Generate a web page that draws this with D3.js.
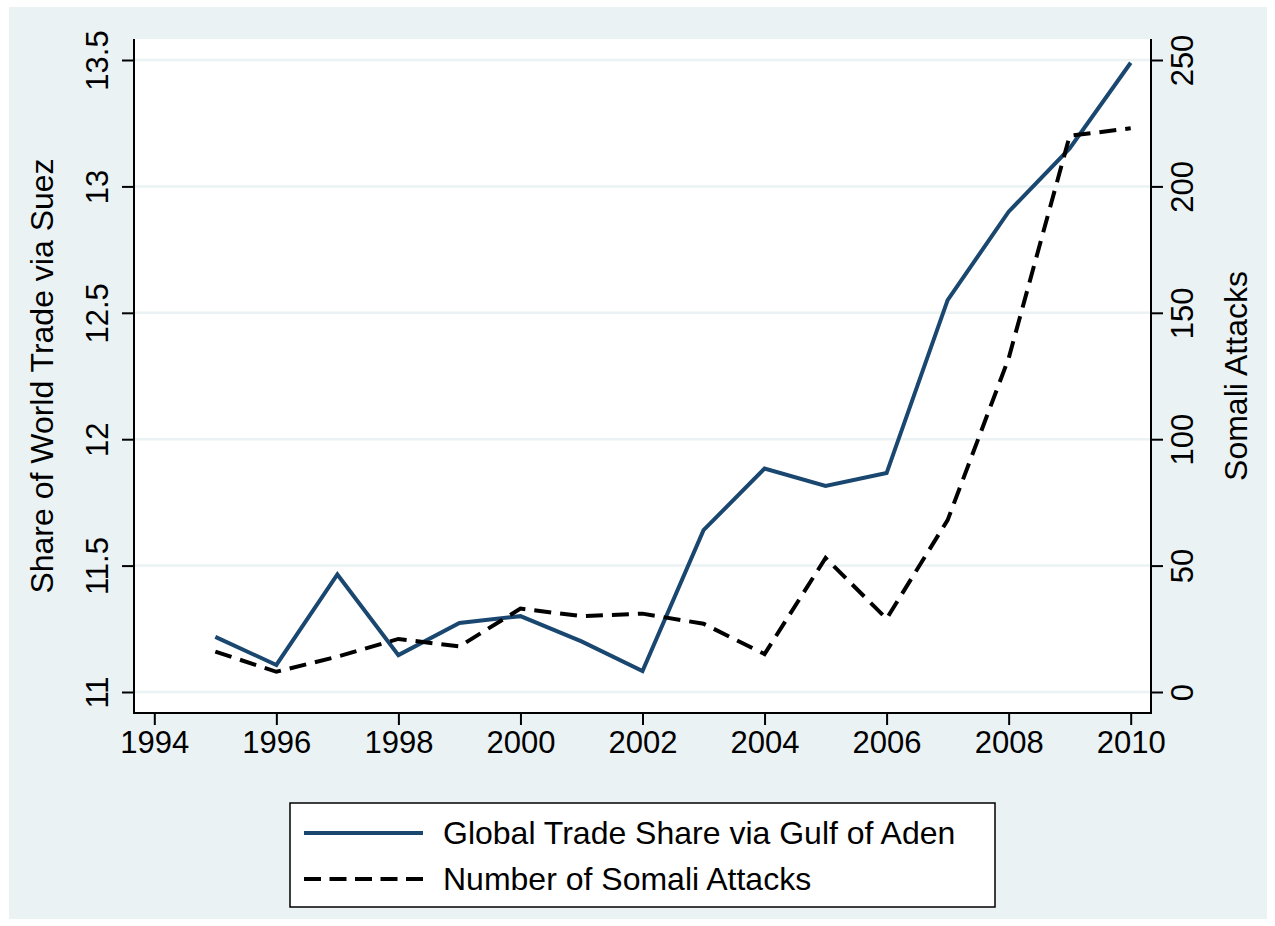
<!DOCTYPE html>
<html>
<head>
<meta charset="utf-8">
<script src="https://cdn.jsdelivr.net/npm/d3@7"></script>
<style>
  body { margin: 0; background: #fff; }
  text { font-family: "Liberation Sans", Arial, Helvetica, sans-serif; fill: #000; }
</style>
</head>
<body>
<div id="chart"></div>
<script>
let years = [1995, 1996, 1997, 1998, 1999, 2000, 2001, 2002, 2003, 2004, 2005, 2006, 2007, 2008, 2009, 2010];
let tradeShare = [11.218, 11.107, 11.465, 11.146, 11.273, 11.30, 11.20, 11.083, 11.64, 11.884, 11.815, 11.866, 12.55, 12.90, 13.15, 13.489];
let somaliAttacks = [16, 8, 14, 21, 18, 33, 30, 31, 27, 15, 53, 29, 68, 132, 220, 223];

let xTicks = [1994, 1996, 1998, 2000, 2002, 2004, 2006, 2008, 2010];
let leftTicks = [11, 11.5, 12, 12.5, 13, 13.5];
let rightTicks = [0, 50, 100, 150, 200, 250];
let legendLabels = ["Global Trade Share via Gulf of Aden", "Number of Somali Attacks"];

let width = 1275,
    height = 926,
    plotLeft = 134,
    plotRight = 1151,
    plotTop = 39,
    plotBottom = 713,
    navy = "#1a476f",
    bg = "#eaf2f3";

let x = d3.scaleLinear()
    .domain([1994, 2010])
    .range([154.3, 1130.7]);

let yLeft = d3.scaleLinear()
    .domain([11, 13.5])
    .range([692, 60]);

let yRight = d3.scaleLinear()
    .domain([0, 250])
    .range([692, 60]);

let svg = d3.select("#chart").append("svg")
    .attr("width", width)
    .attr("height", height);

// outer graph region
svg.append("rect")
    .attr("x", 9)
    .attr("y", 7)
    .attr("width", 1258)
    .attr("height", 912)
    .attr("fill", bg);

// plot region
svg.append("rect")
    .attr("x", plotLeft)
    .attr("y", plotTop)
    .attr("width", plotRight - plotLeft)
    .attr("height", plotBottom - plotTop)
    .attr("fill", "#fff");

// grid lines
svg.selectAll(".grid")
    .data(leftTicks)
    .enter().append("line")
    .attr("class", "grid")
    .attr("x1", plotLeft)
    .attr("x2", plotRight)
    .attr("y1", function(d) { return yLeft(d); })
    .attr("y2", function(d) { return yLeft(d); })
    .attr("stroke", bg)
    .attr("stroke-width", 2.5);

// axes
let gLeft = svg.append("g")
    .attr("transform", "translate(" + plotLeft + ",0)")
    .call(d3.axisLeft(yLeft).tickValues(leftTicks).tickSize(12).tickSizeOuter(0)
        .tickFormat(function(d) { return d3.format("")(d); }));

let gRight = svg.append("g")
    .attr("transform", "translate(" + plotRight + ",0)")
    .call(d3.axisRight(yRight).tickValues(rightTicks).tickSize(12).tickSizeOuter(0));

let gBottom = svg.append("g")
    .attr("transform", "translate(0," + plotBottom + ")")
    .call(d3.axisBottom(x).tickValues(xTicks).tickSize(12).tickSizeOuter(0).tickFormat(d3.format("d")));

[gLeft, gRight, gBottom].forEach(function(g) {
    g.select(".domain").remove();
    g.selectAll(".tick line").attr("stroke", "#000").attr("stroke-width", 2);
    g.selectAll("text").attr("font-size", 31).attr("font-family", null).attr("fill", "#000");
});

gLeft.selectAll("text")
    .attr("x", null)
    .attr("dy", null)
    .attr("text-anchor", "middle")
    .attr("transform", "translate(-26,0) rotate(-90)");

gRight.selectAll("text")
    .attr("x", null)
    .attr("dy", null)
    .attr("text-anchor", "middle")
    .attr("transform", "translate(42,0) rotate(-90)");

gBottom.selectAll("text")
    .attr("y", 40)
    .attr("dy", null);

// axis lines
svg.append("path")
    .attr("d", "M" + plotLeft + "," + plotTop + "V" + plotBottom + "H" + plotRight + "V" + plotTop)
    .attr("fill", "none")
    .attr("stroke", "#000")
    .attr("stroke-width", 2);

// axis titles
svg.append("text")
    .attr("transform", "translate(53," + (plotTop + plotBottom) / 2 + ") rotate(-90)")
    .attr("text-anchor", "middle")
    .attr("font-size", 32)
    .text("Share of World Trade via Suez");

svg.append("text")
    .attr("transform", "translate(1247," + (plotTop + plotBottom) / 2 + ") rotate(-90)")
    .attr("text-anchor", "middle")
    .attr("font-size", 32)
    .text("Somali Attacks");

// series
let lineLeft = d3.line()
    .x(function(d, i) { return x(years[i]); })
    .y(function(d) { return yLeft(d); });

let lineRight = d3.line()
    .x(function(d, i) { return x(years[i]); })
    .y(function(d) { return yRight(d); });

svg.append("path")
    .datum(tradeShare)
    .attr("d", lineLeft)
    .attr("fill", "none")
    .attr("stroke", navy)
    .attr("stroke-width", 4);

svg.append("path")
    .datum(somaliAttacks)
    .attr("d", lineRight)
    .attr("fill", "none")
    .attr("stroke", "#000")
    .attr("stroke-width", 4)
    .attr("stroke-dasharray", "17,9");

// legend
let legend = svg.append("g");

legend.append("rect")
    .attr("x", 290)
    .attr("y", 803)
    .attr("width", 705)
    .attr("height", 104)
    .attr("fill", "#fff")
    .attr("stroke", "#000")
    .attr("stroke-width", 1.5);

let item = legend.selectAll(".item")
    .data(legendLabels)
    .enter().append("g")
    .attr("class", "item")
    .attr("transform", function(d, i) { return "translate(0," + (833 + i * 46) + ")"; });

item.append("line")
    .attr("x1", 304)
    .attr("x2", 423)
    .attr("stroke", function(d, i) { return i === 0 ? navy : "#000"; })
    .attr("stroke-width", 4)
    .attr("stroke-dasharray", function(d, i) { return i === 0 ? null : "17,8.5"; });

item.append("text")
    .attr("x", 443)
    .attr("y", 11)
    .attr("font-size", 32)
    .text(function(d) { return d; });
</script>
</body>
</html>
